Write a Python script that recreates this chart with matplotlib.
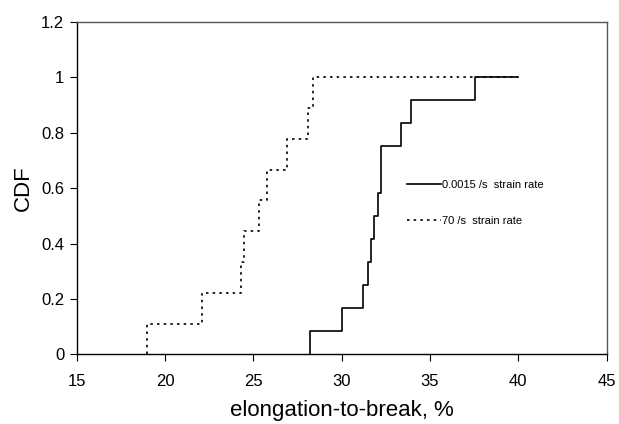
import numpy as np
import matplotlib
matplotlib.use('Agg')
import matplotlib.pyplot as plt
from matplotlib.ticker import FuncFormatter

plt.rcParams['font.family'] = ['Liberation Sans', 'DejaVu Sans']

# elongation-to-break values (%)
slow_rate = [28.23, 30.0, 31.19, 31.47, 31.67, 31.85, 32.03, 32.2, 32.25, 33.38, 33.95, 37.53]
fast_rate = [19.0, 22.1, 24.28, 24.48, 25.33, 25.75, 26.88, 28.07, 28.39]
x_end = 40.0
labels = ['0.0015 /s  strain rate', '70 /s  strain rate']

def ecdf(vals, end):
    vals = np.sort(np.array(vals))
    n = len(vals)
    xs = np.concatenate([[vals[0]], vals, [end]])
    ys = np.concatenate([[0.0], np.arange(1, n + 1) / n, [1.0]])
    return xs, ys

fig = plt.figure(figsize=(6.19, 4.24), dpi=100)
ax = fig.add_axes([0.124, 0.164, 0.856, 0.785])

xs, ys = ecdf(slow_rate, x_end)
ax.step(xs, ys, where='post', color='black', lw=1.2, label=labels[0])
xs, ys = ecdf(fast_rate, x_end)
ax.step(xs, ys, where='post', color='black', lw=1.2, linestyle=(0, (1.5, 2.5)), label=labels[1])

ax.set_xlim(15, 45)
ax.set_ylim(0, 1.2)
ax.set_xticks(np.arange(15, 46, 5))
ax.set_yticks(np.arange(0, 1.21, 0.2))
ax.yaxis.set_major_formatter(FuncFormatter(lambda v, p: '%g' % round(v, 1)))
ax.tick_params(direction='out', length=5, width=0.8, labelsize=12, pad=4)
ax.tick_params(axis='x', pad=9)

for s in ['left', 'bottom']:
    ax.spines[s].set_color('black')
    ax.spines[s].set_linewidth(1.0)
for s in ['top', 'right']:
    ax.spines[s].set_color('#555555')
    ax.spines[s].set_linewidth(1.0)

ax.set_xlabel('elongation-to-break, %', fontsize=16, labelpad=8)
ax.set_ylabel('CDF', fontsize=16, labelpad=5)

ax.legend(loc='upper left', bbox_to_anchor=(0.624, 0.523), frameon=False,
          fontsize=8, handlelength=3, handletextpad=0.15, labelspacing=2.3,
          borderpad=0, borderaxespad=0)

fig.savefig('out.png', dpi=100)
